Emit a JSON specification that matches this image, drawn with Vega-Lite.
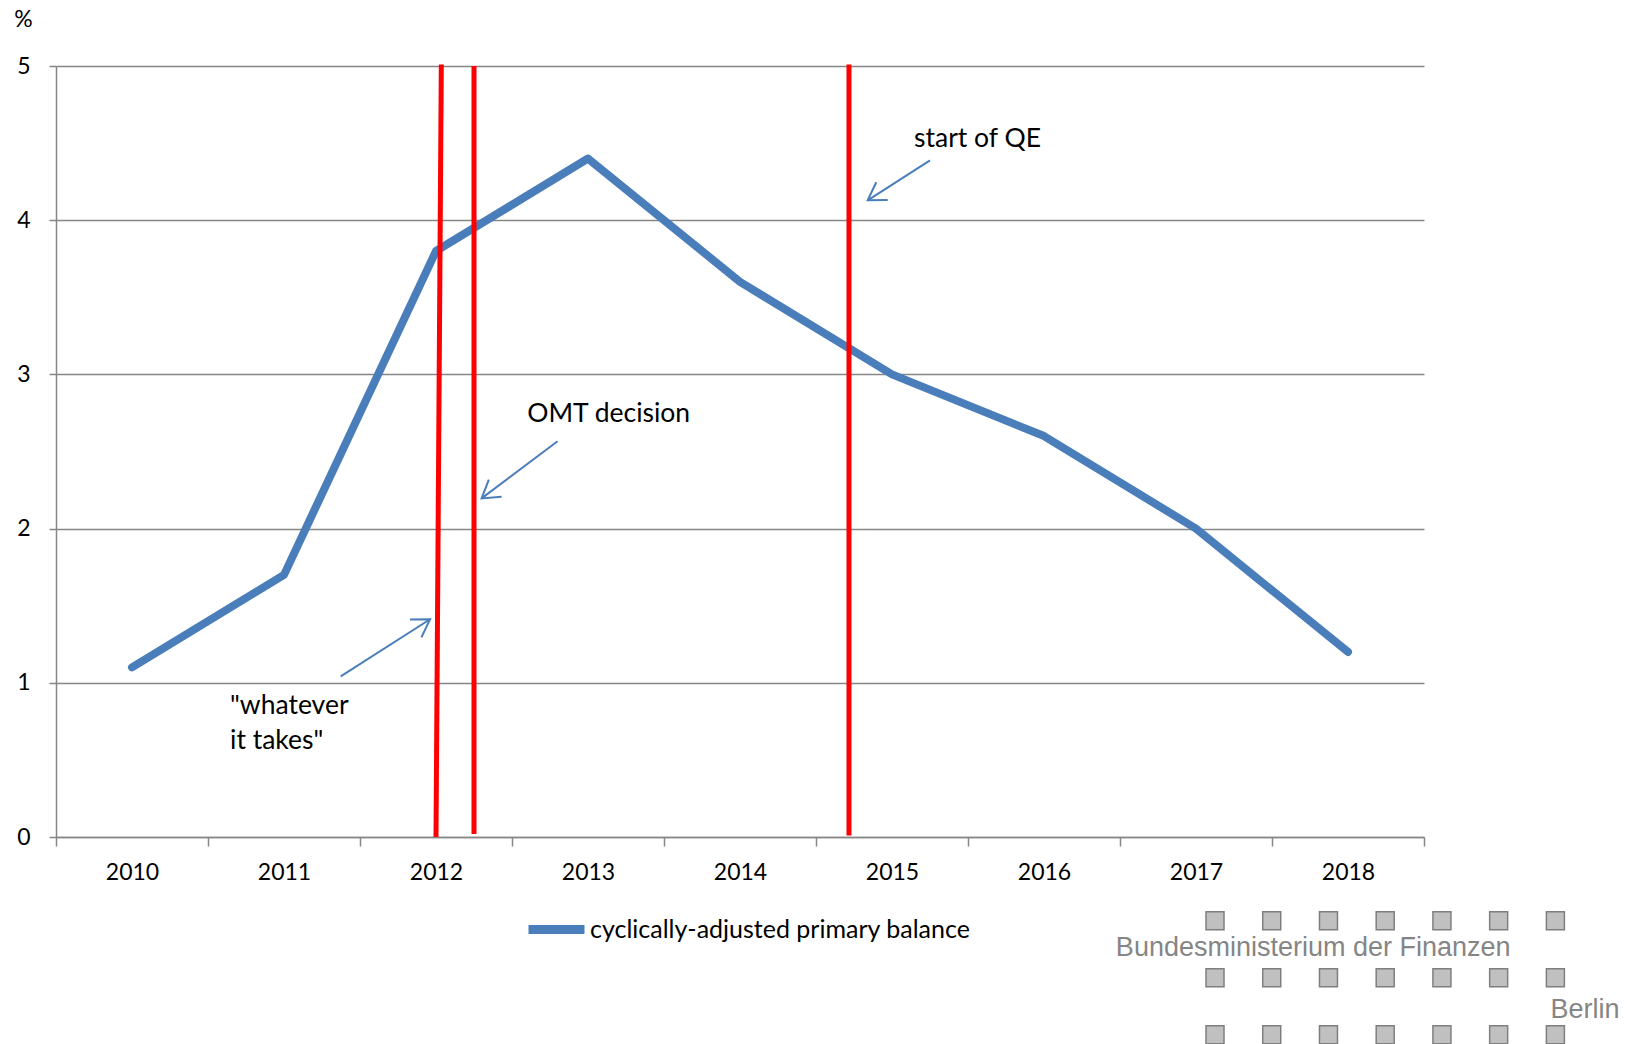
{
  "$schema": "https://vega.github.io/schema/vega-lite/v6.json",
  "width": 1368,
  "height": 771,
  "autosize": {"type": "none"},
  "padding": {"left": 56, "top": 66, "right": 207, "bottom": 207},
  "background": "white",
  "config": {
    "view": {"stroke": null},
    "font": "Lato",
    "text": {"font": "Lato"}
  },
  "datasets": {
    "balance": [
      {"year": 2010, "value": 1.1, "series": "cyclically-adjusted primary balance"},
      {"year": 2011, "value": 1.7, "series": "cyclically-adjusted primary balance"},
      {"year": 2012, "value": 3.8, "series": "cyclically-adjusted primary balance"},
      {"year": 2013, "value": 4.4, "series": "cyclically-adjusted primary balance"},
      {"year": 2014, "value": 3.6, "series": "cyclically-adjusted primary balance"},
      {"year": 2015, "value": 3.0, "series": "cyclically-adjusted primary balance"},
      {"year": 2016, "value": 2.6, "series": "cyclically-adjusted primary balance"},
      {"year": 2017, "value": 2.0, "series": "cyclically-adjusted primary balance"},
      {"year": 2018, "value": 1.2, "series": "cyclically-adjusted primary balance"}
    ],
    "events": [
      {"id": "wit", "x_bottom": 2012.0, "x_top": 2012.035, "y_bottom": 0, "y_top": 5.01},
      {"id": "omt", "x_bottom": 2012.25, "x_top": 2012.25, "y_bottom": 0.02, "y_top": 5.0},
      {"id": "qe", "x_bottom": 2014.717, "x_top": 2014.717, "y_bottom": 0.01, "y_top": 5.01}
    ],
    "notes": [
      {"id": "qe", "label": "start of QE", "tx": 2015.145, "ty": 4.525, "x_from": 2015.25, "y_from": 4.388, "x_tip": 2014.84, "y_tip": 4.129},
      {"id": "omt", "label": "OMT decision", "tx": 2012.6, "ty": 2.742, "x_from": 2012.8, "y_from": 2.566, "x_tip": 2012.3, "y_tip": 2.196},
      {"id": "wit", "label": "\"whatever\nit takes\"", "tx": 2010.645, "ty": 0.847, "x_from": 2011.373, "y_from": 1.042, "x_tip": 2011.961, "y_tip": 1.412}
    ],
    "logo": [
      {"col": 0, "row": 0}, {"col": 1, "row": 0}, {"col": 2, "row": 0}, {"col": 3, "row": 0}, {"col": 4, "row": 0}, {"col": 5, "row": 0}, {"col": 6, "row": 0},
      {"col": 0, "row": 1}, {"col": 1, "row": 1}, {"col": 2, "row": 1}, {"col": 3, "row": 1}, {"col": 4, "row": 1}, {"col": 5, "row": 1}, {"col": 6, "row": 1},
      {"col": 0, "row": 2}, {"col": 1, "row": 2}, {"col": 2, "row": 2}, {"col": 3, "row": 2}, {"col": 4, "row": 2}, {"col": 5, "row": 2}, {"col": 6, "row": 2}
    ],
    "logo_text": [
      {"text": "Bundesministerium der Finanzen", "col": 5.21, "row": 0.625},
      {"text": "Berlin", "col": 7.13, "row": 1.71}
    ]
  },
  "layer": [
    {
      "layer": [
        {
          "data": {"name": "balance"},
          "mark": {"type": "line", "strokeWidth": 8, "strokeCap": "round", "strokeJoin": "round"},
          "encoding": {
            "x": {
              "field": "year",
              "type": "quantitative",
              "scale": {"domain": [2009.5, 2018.5], "nice": false, "zero": false},
              "axis": {
                "values": [2009.5, 2010.5, 2011.5, 2012.5, 2013.5, 2014.5, 2015.5, 2016.5, 2017.5, 2018.5],
                "labelExpr": "datum.value < 2018 ? format(datum.value + 0.5, 'd') : ''",
                "labelOffset": 76,
                "labelFlush": false,
                "labelOverlap": false,
                "labelBound": false,
                "title": null,
                "grid": false,
                "tickSize": 9,
                "tickWidth": 1.5,
                "tickColor": "#868686",
                "domainColor": "#868686",
                "domainWidth": 1.5,
                "labelFont": "Lato",
                "labelFontSize": 23,
                "labelColor": "#000000",
                "labelPadding": 15
              }
            },
            "y": {
              "field": "value",
              "type": "quantitative",
              "scale": {"domain": [0, 5], "nice": false},
              "axis": {
                "values": [0, 1, 2, 3, 4, 5],
                "format": "d",
                "title": "%",
                "titleAngle": 0,
                "titleX": -33,
                "titleY": -47,
                "titleAlign": "center",
                "titleBaseline": "middle",
                "titleFont": "Lato",
                "titleFontSize": 23,
                "titleFontWeight": "normal",
                "titleColor": "#000000",
                "grid": true,
                "gridColor": "#868686",
                "gridWidth": 1.5,
                "tickSize": 7,
                "tickWidth": 1.5,
                "tickColor": "#868686",
                "domainColor": "#868686",
                "domainWidth": 1.5,
                "labelFont": "Lato",
                "labelFontSize": 23,
                "labelColor": "#000000",
                "labelPadding": 19
              }
            },
            "color": {
              "field": "series",
              "type": "nominal",
              "scale": {"range": ["#4a7ebb"]},
              "legend": {
                "orient": "none",
                "legendX": 468,
                "legendY": 831,
                "title": null,
                "padding": 0,
                "symbolType": "stroke",
                "symbolSize": 3136,
                "symbolStrokeWidth": 9,
                "labelFont": "Lato",
                "labelFontSize": 25,
                "labelColor": "#000000",
                "labelOffset": 1,
                "labelLimit": 600
              }
            }
          }
        },
        {
          "data": {"name": "events"},
          "mark": {"type": "rule", "color": "#ff0000", "strokeWidth": 5},
          "encoding": {
            "x": {"field": "x_bottom", "type": "quantitative"},
            "x2": {"field": "x_top"},
            "y": {"field": "y_bottom", "type": "quantitative"},
            "y2": {"field": "y_top"}
          }
        },
        {
          "data": {"name": "notes"},
          "mark": {"type": "rule", "color": "#4a7ebb", "strokeWidth": 2},
          "encoding": {
            "x": {"field": "x_from", "type": "quantitative"},
            "x2": {"field": "x_tip"},
            "y": {"field": "y_from", "type": "quantitative"},
            "y2": {"field": "y_tip"}
          }
        },
        {
          "data": {"name": "notes"},
          "transform": [{"filter": "datum.id === 'qe'"}],
          "mark": {"type": "point", "shape": "M -0.53 0.85 L 0 0 L 0.53 0.85", "size": 1600, "filled": false, "stroke": "#4a7ebb", "strokeWidth": 2, "opacity": 1, "angle": 237.3},
          "encoding": {
            "x": {"field": "x_tip", "type": "quantitative"},
            "y": {"field": "y_tip", "type": "quantitative"}
          }
        },
        {
          "data": {"name": "notes"},
          "transform": [{"filter": "datum.id === 'omt'"}],
          "mark": {"type": "point", "shape": "M -0.53 0.85 L 0 0 L 0.53 0.85", "size": 1600, "filled": false, "stroke": "#4a7ebb", "strokeWidth": 2, "opacity": 1, "angle": 233.1},
          "encoding": {
            "x": {"field": "x_tip", "type": "quantitative"},
            "y": {"field": "y_tip", "type": "quantitative"}
          }
        },
        {
          "data": {"name": "notes"},
          "transform": [{"filter": "datum.id === 'wit'"}],
          "mark": {"type": "point", "shape": "M -0.53 0.85 L 0 0 L 0.53 0.85", "size": 1600, "filled": false, "stroke": "#4a7ebb", "strokeWidth": 2, "opacity": 1, "angle": 57.5},
          "encoding": {
            "x": {"field": "x_tip", "type": "quantitative"},
            "y": {"field": "y_tip", "type": "quantitative"}
          }
        },
        {
          "data": {"name": "notes"},
          "mark": {"type": "text", "align": "left", "baseline": "middle", "fontSize": 26.5, "font": "Lato", "color": "#000000", "lineBreak": "\n", "lineHeight": 35},
          "encoding": {
            "x": {"field": "tx", "type": "quantitative"},
            "y": {"field": "ty", "type": "quantitative"},
            "text": {"field": "label"}
          }
        }
      ]
    },
    {
      "layer": [
        {
          "data": {"name": "logo"},
          "mark": {"type": "square", "size": 324, "filled": true, "fill": "#c0c0c0", "stroke": "#7f7f7f", "strokeWidth": 1.5, "opacity": 1},
          "encoding": {
            "x": {"field": "col", "type": "quantitative", "scale": {"domain": [-20.43, 3.684], "nice": false, "zero": false}, "axis": null},
            "y": {"field": "row", "type": "quantitative", "scale": {"domain": [-15.0, -1.47], "reverse": true, "nice": false, "zero": false}, "axis": null}
          }
        },
        {
          "data": {"name": "logo_text"},
          "mark": {"type": "text", "align": "right", "baseline": "alphabetic", "font": "Liberation Sans", "fontSize": 27, "color": "#858585"},
          "encoding": {
            "x": {"field": "col", "type": "quantitative"},
            "y": {"field": "row", "type": "quantitative"},
            "text": {"field": "text"}
          }
        }
      ]
    }
  ],
  "resolve": {"scale": {"x": "independent", "y": "independent"}}
}
